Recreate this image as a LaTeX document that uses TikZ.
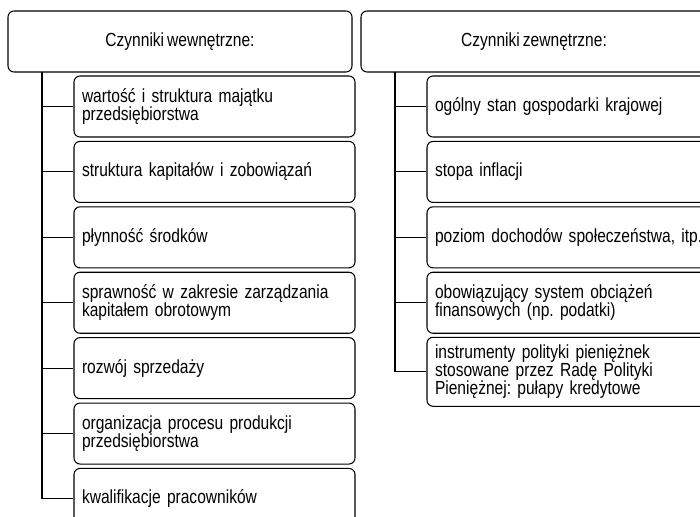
\documentclass[tikz,border=0pt]{standalone}
\usepackage{fontspec}
\setmainfont[FakeStretch=0.82, WordSpace=0.7]{Liberation Sans}
\usetikzlibrary{positioning}
\frenchspacing

\begin{document}
\begin{tikzpicture}[font=\fontsize{10.8}{10.4}\selectfont, line width=0.6pt,
    head/.style={draw, rounded corners=0.12cm, fill=white, minimum height=1.22cm},
    item/.style={draw, rounded corners=0.12cm, fill=white, minimum height=1.22cm,
                 inner xsep=0.16cm, inner ysep=0.05cm, align=left}]
    \useasboundingbox (0,0) rectangle (14,-10.32);
    \clip (0,0) rectangle (14,-10.32);

    % czynniki wewnetrzne
    \node[head, minimum width=6.88cm] (wew) at ({3.6},{-0.83}) {Czynniki wewnętrzne:};
    \node[item, text width=5.3cm] (w1) at ({4.29},{-2.13}) {wartość i struktura majątku\\przedsiębiorstwa};
    \node[item, text width=5.3cm, below=0.067cm of w1] (w2) {struktura kapitałów i zobowiązań};
    \node[item, text width=5.3cm, below=0.067cm of w2] (w3) {płynność środków};
    \node[item, text width=5.3cm, below=0.067cm of w3] (w4) {sprawność w zakresie zarządzania\\kapitałem obrotowym};
    \node[item, text width=5.3cm, below=0.067cm of w4] (w5) {rozwój sprzedaży};
    \node[item, text width=5.3cm, below=0.067cm of w5] (w6) {organizacja procesu produkcji\\przedsiębiorstwa};
    \node[item, text width=5.3cm, below=0.067cm of w6] (w7) {kwalifikacje pracowników};

    \coordinate (wt) at ({0.84},{-1.44});
    \draw (wt) |- (w7.west);
    \draw (wt |- w1.west) -- (w1.west);
    \draw (wt |- w2.west) -- (w2.west);
    \draw (wt |- w3.west) -- (w3.west);
    \draw (wt |- w4.west) -- (w4.west);
    \draw (wt |- w5.west) -- (w5.west);
    \draw (wt |- w6.west) -- (w6.west);

    % czynniki zewnetrzne
    \node[head, minimum width=6.92cm] (zew) at ({10.68},{-0.83}) {Czynniki zewnętrzne:};
    \node[item, text width=5.6cm] (z1) at ({11.5},{-2.13}) {ogólny stan gospodarki krajowej};
    \node[item, text width=5.6cm, below=0.067cm of z1] (z2) {stopa inflacji};
    \node[item, text width=5.6cm, below=0.067cm of z2] (z3) {poziom dochodów społeczeństwa, itp.};
    \node[item, text width=5.6cm, below=0.067cm of z3] (z4) {obowiązujący system obciążeń\\finansowych (np. podatki)};
    \node[item, text width=5.6cm, minimum height=1.38cm, below=0.06cm of z4] (z5) {instrumenty polityki pieniężnek\\stosowane przez Radę Polityki\\Pieniężnej: pułapy kredytowe};

    \coordinate (zt) at ({7.9},{-1.44});
    \draw (zt) |- (z5.west);
    \draw (zt |- z1.west) -- (z1.west);
    \draw (zt |- z2.west) -- (z2.west);
    \draw (zt |- z3.west) -- (z3.west);
    \draw (zt |- z4.west) -- (z4.west);
\end{tikzpicture}
\end{document}
